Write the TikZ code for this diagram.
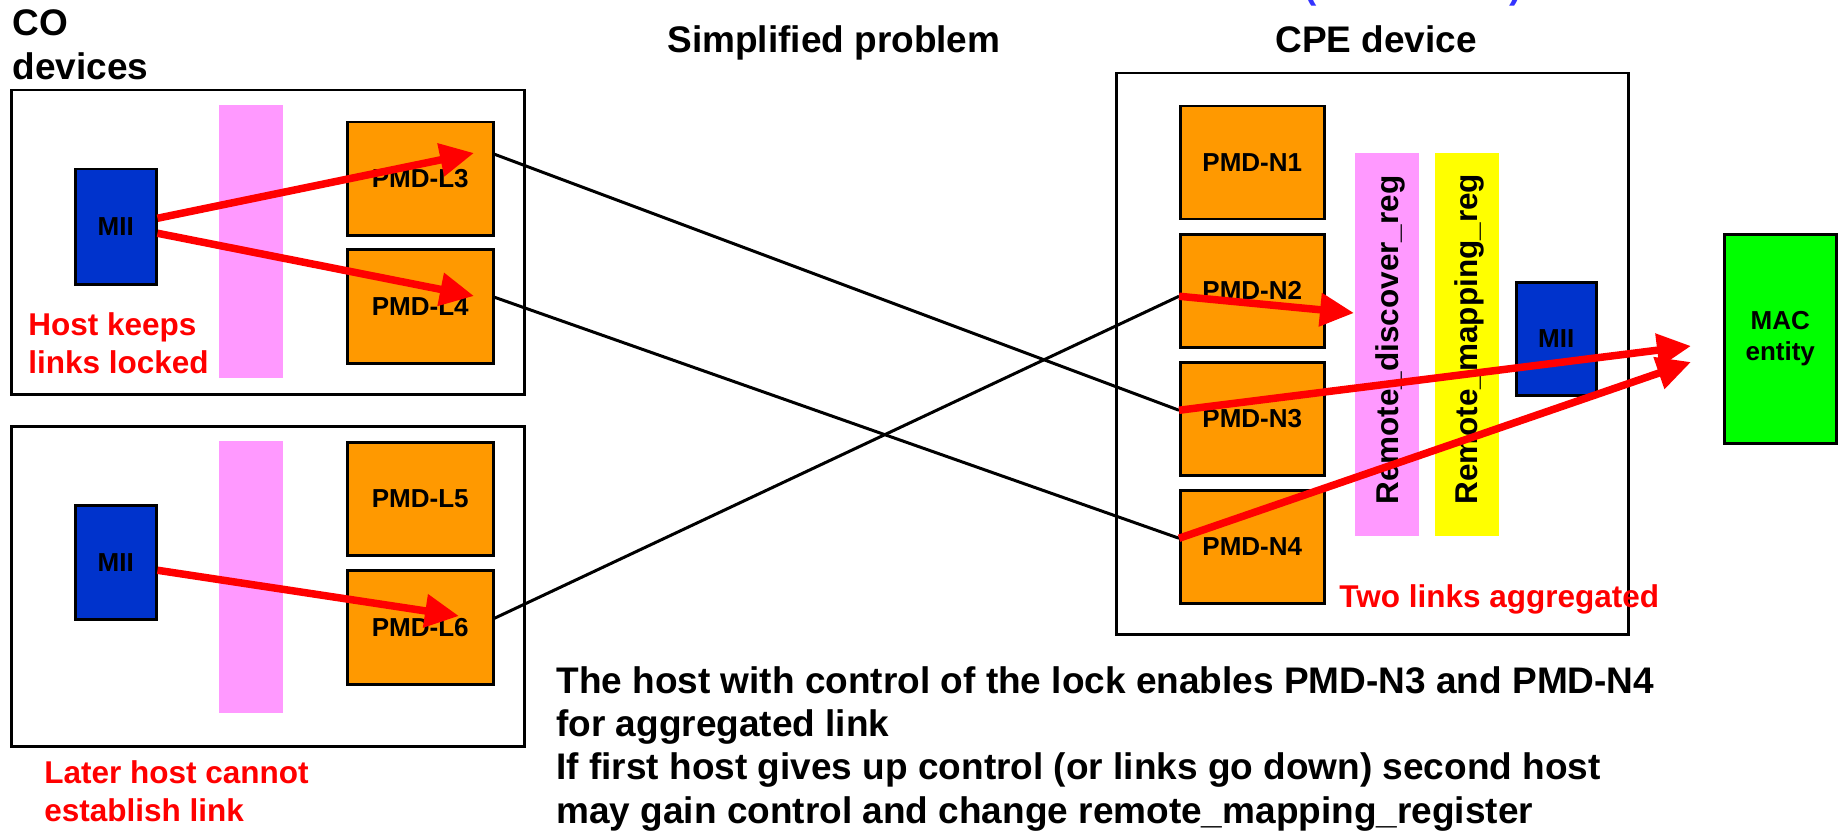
\documentclass[tikz,border=0pt]{standalone}
\usepackage{fontspec}
\setmainfont{Liberation Sans}
\usetikzlibrary{arrows.meta,calc}

\definecolor{pmdorange}{RGB}{255,153,0}
\definecolor{miiblue}{RGB}{0,51,204}
\definecolor{regpink}{RGB}{255,153,255}
\definecolor{regyellow}{RGB}{255,255,0}
\definecolor{macgreen}{RGB}{0,255,0}
\definecolor{notered}{RGB}{255,0,0}
\definecolor{headblue}{RGB}{51,51,255}

\newcommand{\fsz}[2]{\fontsize{#1}{#2}\selectfont\bfseries}

% one drawing unit is half a point; sizes below are given in points
\tikzset{
  box/.style={draw=black, line width=1.25pt, inner sep=0pt, anchor=north west},
  devbox/.style={box, fill=white},
  pmd/.style={box, fill=pmdorange, font=\fsz{13pt}{15.6pt}},
  mii/.style={box, fill=miiblue, font=\fsz{13pt}{15.6pt}},
  bar/.style={inner sep=0pt, anchor=north west, draw=none},
  title/.style={inner sep=0pt, anchor=base west, font=\fsz{18.5pt}{22pt}},
  note/.style={inner sep=0pt, anchor=base west, text=notered, font=\fsz{15.75pt}{19pt}},
  regtext/.style={inner sep=0pt, anchor=base west, rotate=90, font=\fsz{15.75pt}{19pt}},
  link/.style={draw=black, line width=1.5pt},
  flow/.style={draw=notered, line width=3.75pt,
    -{Triangle[length=17pt,width=16pt]}},
}

\begin{document}
\begin{tikzpicture}[x=0.5pt,y=-0.5pt]
\useasboundingbox (0,0) rectangle (1839,834);
\fill[white] (0,0) rectangle (1839,834);

% cut-off heading at the top edge
\begin{scope}
  \clip (0,0) rectangle (1839,834);
  \node[title, text=headblue] (hpl) at (1304,-1) {(};
  \node[title, text=headblue, anchor=base east] (hpr) at (1522,-1) {)};
\end{scope}

% headings
\node[title] (co) at (12,36) {\begin{tabular}[t]{@{}l@{}}CO\\devices\end{tabular}};
\node[title] (simp) at (667,53) {Simplified problem};
\node[title] (cpet) at (1275,53) {CPE device};

% CO device, upper host
\node[devbox, minimum width=256.5pt, minimum height=152pt] (coA) at (10,89) {};
\node[bar, fill=regpink, minimum width=32pt, minimum height=136.5pt] (barA) at (219,105) {};
\node[mii, minimum width=40.5pt, minimum height=57.5pt] (miiA) at (74,168) {MII};
\node[pmd, minimum width=73pt, minimum height=56.5pt] (L3) at (346,121) {PMD-L3};
\node[pmd, minimum width=73pt, minimum height=57pt] (L4) at (346,248) {PMD-L4};

% CO device, lower host
\node[devbox, minimum width=256.5pt, minimum height=160pt] (coB) at (10,425) {};
\node[bar, fill=regpink, minimum width=32pt, minimum height=136pt] (barB) at (219,441) {};
\node[mii, minimum width=40.5pt, minimum height=57pt] (miiB) at (74,504) {MII};
\node[pmd, minimum width=73pt, minimum height=56.5pt] (L5) at (346,441) {PMD-L5};
\node[pmd, minimum width=73pt, minimum height=57pt] (L6) at (346,569) {PMD-L6};

% CPE device
\node[devbox, minimum width=256pt, minimum height=280.5pt] (cpe) at (1115,72) {};
\node[pmd, minimum width=72pt, minimum height=56.5pt] (N1) at (1179,105) {PMD-N1};
\node[pmd, minimum width=72pt, minimum height=56.5pt] (N2) at (1179,233) {PMD-N2};
\node[pmd, minimum width=72pt, minimum height=56.5pt] (N3) at (1179,361) {PMD-N3};
\node[pmd, minimum width=72pt, minimum height=56.5pt] (N4) at (1179,489) {PMD-N4};
\node[bar, fill=regpink, minimum width=32pt, minimum height=191.5pt] (discover) at (1355,153) {};
\node[bar, fill=regyellow, minimum width=32pt, minimum height=191.5pt] (mapping) at (1435,153) {};
\node[regtext] (discoverT) at (1398,505) {Remote\_discover\_reg};
\node[regtext] (mappingT) at (1477,505) {Remote\_mapping\_reg};
\node[mii, minimum width=40pt, minimum height=56.5pt] (miiC) at (1515,281) {MII};

% MAC entity
\node[box, fill=macgreen, minimum width=56pt, minimum height=104.5pt,
      font=\fsz{13pt}{15.6pt}] (mac) at (1723,233)
  {\begin{tabular}{@{}c@{}}MAC\\entity\end{tabular}};

% physical links between CO and CPE
\coordinate (n2in) at ($(N2.west)+(0,5.5)$);
\coordinate (n3in) at ($(N3.west)+(0,-8.5)$);
\coordinate (n4in) at ($(N4.west)+(0,-8.5)$);
\draw[link] ($(L3.east)+(0,-24.5)$) -- (n3in);
\draw[link] ($(L4.east)+(0,-9)$) -- (n4in);
\draw[link] ($(L6.east)+(0,-9)$) -- (n2in);

% data flow arrows
\coordinate (tL3) at (474,153);
\coordinate (tL4) at (474,296);
\coordinate (tL6) at (459,616);
\coordinate (tReg) at (1354,313);
\coordinate (tMacA) at (1691,346);
\coordinate (tMacB) at (1691,362);
\draw[flow] ($(miiA.east)+(0,-8.5)$) -- (tL3);
\draw[flow] ($(miiA.east)+(0,6.5)$) -- (tL4);
\draw[flow] ($(miiB.east)+(0,8)$) -- (tL6);
\draw[flow] (n2in) -- (tReg);
\draw[flow] (n3in) -- (tMacA);
\draw[flow] (n4in) -- (tMacB);

% annotations
\node[note] (keeps) at (28,335) {\begin{tabular}[t]{@{}l@{}}Host keeps\\links locked\end{tabular}};
\node[note] (later) at (44,783) {\begin{tabular}[t]{@{}l@{}}Later host cannot\\establish link\end{tabular}};
\node[note] (aggr) at (1339,607) {Two links aggregated};
\node[title, font=\fsz{18.5pt}{21.67pt}] (expl) at (556,693)
  {\begin{tabular}[t]{@{}l@{}}The host with control of the lock enables PMD-N3 and PMD-N4\\
   for aggregated link\\
   If first host gives up control (or links go down) second host\\
   may gain control and change remote\_mapping\_register\end{tabular}};
\end{tikzpicture}
\end{document}
